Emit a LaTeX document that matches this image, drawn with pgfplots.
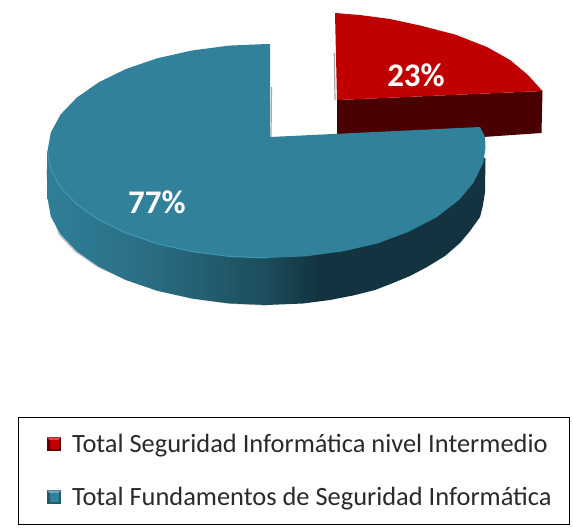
\documentclass[border=0pt]{standalone}
\usepackage{pgfplots}
\pgfplotsset{compat=1.18}
\usepackage{fontspec}
\setmainfont{Carlito}
\definecolor{redtop}{HTML}{C00000}
\definecolor{redside}{HTML}{4A0000}
\definecolor{bluetop}{HTML}{31819B}
\definecolor{bluerim}{HTML}{3C9AB5}
\definecolor{legtext}{HTML}{2A2A2A}
\definecolor{sa}{HTML}{2F7F98}
\definecolor{sb}{HTML}{2A6C82}
\definecolor{sc}{HTML}{1C4D5C}
\definecolor{sd}{HTML}{12333F}
\pgfdeclarehorizontalshading{blueside}{100bp}{
 color(0bp)=(sa);
 color(25bp)=(sa);
 color(37bp)=(sb);
 color(50bp)=(sc);
 color(56bp)=(sd);
 color(75bp)=(sd);
 color(100bp)=(sd)}
\newcommand{\legsq}[2]{%
 \path (0pt,0pt);
 \fill[#2] (13pt,-7pt) rectangle (27pt,7pt);
 \fill[#1] (15.5pt,-4.5pt) rectangle (24.5pt,4.5pt);
 \fill[#1!70!white] (13pt,7pt) -- (27pt,7pt) -- (24.5pt,4.5pt) -- (15.5pt,4.5pt) -- cycle;
}
\begin{document}
\begin{tikzpicture}
\path[use as bounding box] (0,0) rectangle (573pt,528pt);
\begin{axis}[
 at={(0,0)}, anchor=south west,
 scale only axis, width=573pt, height=528pt,
 xmin=0, xmax=573, ymin=0, ymax=528, y dir=reverse,
 axis lines=none, clip=false,
 legend cell align=left,
 legend style={at={(axis cs:18,417)}, anchor=north west, draw=black, line width=1pt,
   font=\fontsize{26.4}{31}\selectfont\color{legtext},
   inner xsep=15.5pt, inner ysep=15pt, row sep=29pt,
   /tikz/every odd column/.append style={column sep=9pt}},
]
% red side
\addplot[draw=none, fill=redside, forget plot] coordinates {
 (337,100) (542.5,91) (541.5,133) (483,137) (337,140)} -- cycle;
% red shadow edge
\addplot[gray!70, line width=1.2pt, forget plot] coordinates {(334.3,53) (335,100)};
% red top
\addplot[draw=none, fill=redtop, area legend,
 legend image code/.code={\legsq{redtop}{redside!80!redtop}}] coordinates {
 (335,13) (360,15) (390,19) (420,25.5) (455,34.5) (487,47) (510,60) (528,75) (542.5,91) (337,100)} -- cycle;
\addlegendentry{Total Seguridad Informática nivel Intermedio}
% blue notch shadow
\addplot[gray!70, line width=1.2pt, forget plot] coordinates {(271.5,87) (271,137)};
% blue soft shadow
\addplot[gray!45, line width=1.6pt, forget plot] coordinates {
 (47,170) (49,200) (59,234) (75,251) (97,266) (125,279) (157,290) (192,298) (229,303) (267,305)};
% blue side
\addplot[draw=none, shading=blueside, forget plot] coordinates {
 (47.5,151) (50.8,169.6) (60.7,187.6) (76.9,204.5) (98.9,219.8) (125.9,233) (157.2,243.7) (191.9,251.5) (228.9,256.4) (267,258)
 (305,254) (342,248) (376,238) (408,225) (435,210) (457,193) (473,175) (482,158) (485.5,158)
 (485,192) (483,205) (480,217) (470,231) (460,243) (445,256) (427,267) (410,276) (393,283) (375,290) (353,295.5) (330,300) (303,303.5)
 (267,305) (228.9,303.4) (191.9,298.5) (157.2,290.7) (125.9,280) (98.9,266.8) (76.9,251.5) (60.7,234.6) (50.8,216.6) (47.5,198)} -- cycle;
% blue top
\addplot[draw=none, fill=bluetop, area legend,
 legend image code/.code={\legsq{bluetop}{bluetop!70!black}}] coordinates {
 (270,137) (270,44) (267,44) (228.9,45.6) (191.9,50.5) (157.2,58.3) (125.9,69) (98.9,82.2) (76.9,97.5) (60.7,114.4) (50.8,132.4) (47.5,151)
 (50.8,169.6) (60.7,187.6) (76.9,204.5) (98.9,219.8) (125.9,233) (157.2,243.7) (191.9,251.5) (228.9,256.4) (267,258)
 (305.1,256.4) (342.1,251.5) (376.8,243.7) (408.1,232) (437,217) (459,200) (473.3,183) (483.2,163) (485.5,148) (485,137) (480,127)} -- cycle;
\addlegendentry{Total Fundamentos de Seguridad Informática}
% blue rim highlight
\addplot[bluerim, line width=1pt, forget plot] coordinates {
 (47.5,151) (50.8,169.6) (60.7,187.6) (76.9,204.5) (98.9,219.8) (125.9,233) (157.2,243.7) (191.9,251.5) (228.9,256.4) (267,258)};
\node[font=\fontsize{33}{36}\selectfont\bfseries, text=white] at (axis cs:416,75) {23\%};
\node[font=\fontsize{33}{36}\selectfont\bfseries, text=white] at (axis cs:157,202) {77\%};
\end{axis}
\end{tikzpicture}
\end{document}
